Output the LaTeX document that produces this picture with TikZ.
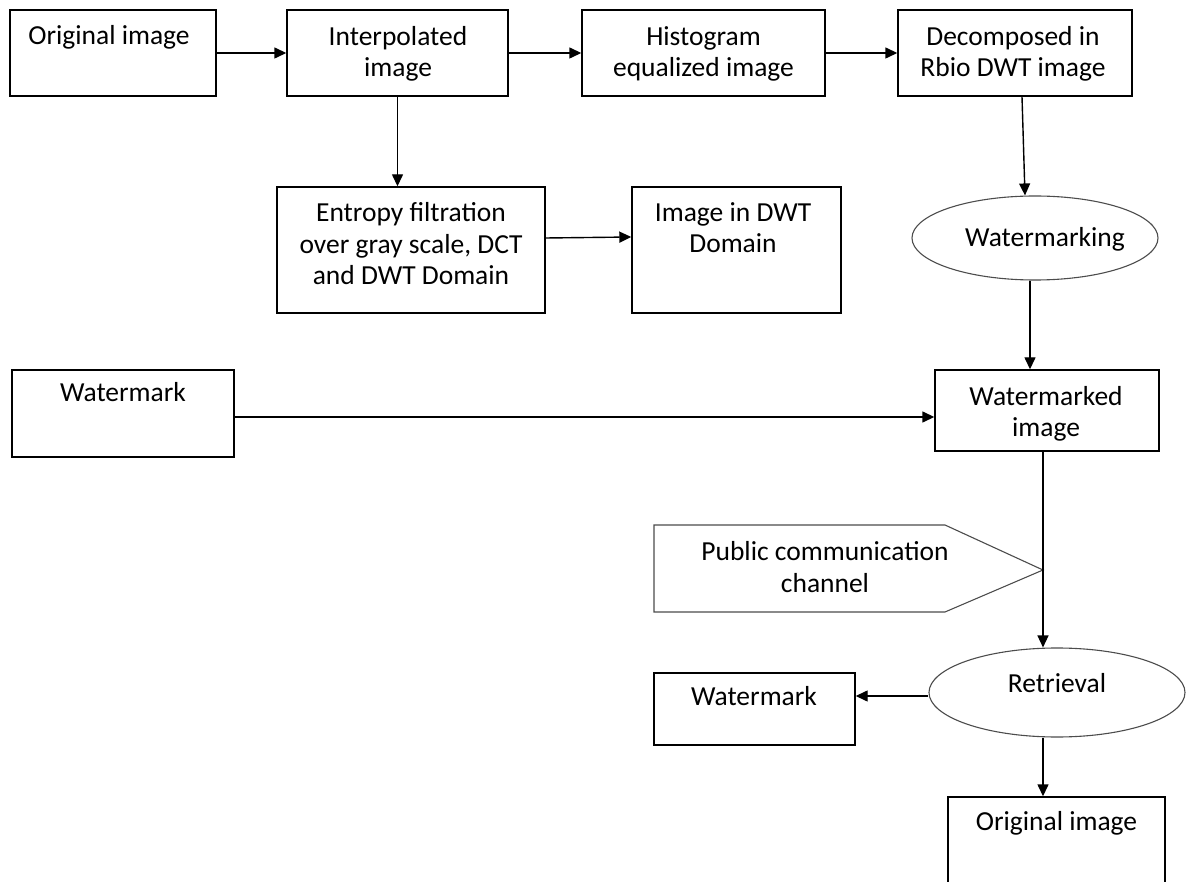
\documentclass[tikz,border=0pt]{standalone}
\usepackage{fontspec}
\setmainfont{Carlito}
\usetikzlibrary{arrows.meta,shapes.geometric}
\begin{document}
\begin{tikzpicture}[x=1pt,y=-1pt,
  box/.style={draw=black,line width=1.4pt,fill=white,inner sep=0pt},
  oval/.style={draw=black!70,line width=1.1pt,ellipse,inner sep=0pt},
  % base anchor of a multi-line text is the baseline of its last line
  txt/.style={anchor=base,align=center,inner sep=0pt,font=\fontsize{27.5}{31.5}\selectfont},
  arr/.style={draw=black,line width=1.4pt,-{Triangle[length=12pt,width=11pt]}},
  wire/.style={draw=black,line width=1.4pt}]
\useasboundingbox (0,0) rectangle (1195,882);
\clip (0,0) rectangle (1195,882);

% top row
\node[box,minimum width=206,minimum height=86] (orig) at (113,53) {};
\node[txt] (origT) at (109,45) {Original image};
\node[box,minimum width=221,minimum height=86] (interp) at (397.5,53) {};
\node[txt] (interpT) at (398,77) {Interpolated\\image};
\node[box,minimum width=243,minimum height=86] (hist) at (703.5,53) {};
\node[txt] (histT) at (703.5,77) {Histogram\\equalized image};
\node[box,minimum width=234,minimum height=86] (decomp) at (1015,53) {};
\node[txt] (decompT) at (1013,77) {Decomposed in\\Rbio DWT image};

% second row
\node[box,minimum width=268,minimum height=126] (entropy) at (411,250) {};
\node[txt] (entropyT) at (411,285) {Entropy filtration\\over gray scale, DCT\\and DWT Domain};
\node[box,minimum width=209,minimum height=126] (dwtimg) at (736.5,250) {};
\node[txt] (dwtimgT) at (733,253) {Image in DWT\\Domain};
\node[oval,minimum width=246,minimum height=84] (wmk) at (1035,238) {};
\node[txt] (wmkT) at (1045,247) {Watermarking};

% watermark embedding
\node[box,minimum width=222,minimum height=87] (wm1) at (123,413.5) {};
\node[txt] (wm1T) at (123,402) {Watermark};
\node[box,minimum width=224,minimum height=81] (wmd) at (1047,410.5) {};
\node[txt] (wmdT) at (1046,437) {Watermarked\\image};

% channel
\coordinate (tip) at (1043,570);
\draw[draw=black!70,line width=1.1pt,fill=white] (654,525) -- (945,525) -- (tip) -- (945,612) -- (654,612) -- cycle;
\node[txt] (chanT) at (825,592) {Public communication\\channel};

% retrieval
\node[oval,minimum width=256,minimum height=89] (ret) at (1057,692.5) {};
\node[txt] (retT) at (1057,692) {Retrieval};
\node[box,minimum width=201,minimum height=72] (wm2) at (754.5,709) {};
\node[txt] (wm2T) at (754,705) {Watermark};
\node[box,minimum width=217,minimum height=100] (orig2) at (1056.5,847) {};
\node[txt] (orig2T) at (1056.5,830) {Original image};

% connectors
\draw[arr] (orig.east) -- (interp.west);
\draw[arr] (interp.east) -- (hist.west);
\draw[arr] (hist.east) -- (decomp.west);
\draw[arr] (interp.south) -- (interp.south |- entropy.north);
\draw[arr] ([yshift=12pt]entropy.east) -- ([yshift=13pt]dwtimg.west);
\draw[arr] ([xshift=7pt]decomp.south) -- ([xshift=-10pt]wmk.north);
\coordinate (wmkB) at ([xshift=-5pt]wmk.south);
\draw[arr] (wmkB) -- (wmkB |- wmd.north);
\coordinate (wmA) at ([yshift=-3.5pt]wm1.east);
\draw[arr] (wmA) -- (wmA -| wmd.west);
\draw[arr] (tip |- wmd.south) -- (tip |- ret.north);
\coordinate (retW) at ([yshift=-3.5pt]ret.west);
\draw[arr] (retW) -- (retW -| wm2.east);
\draw[arr] (tip |- ret.south) -- (tip |- orig2.north);
\end{tikzpicture}
\end{document}
